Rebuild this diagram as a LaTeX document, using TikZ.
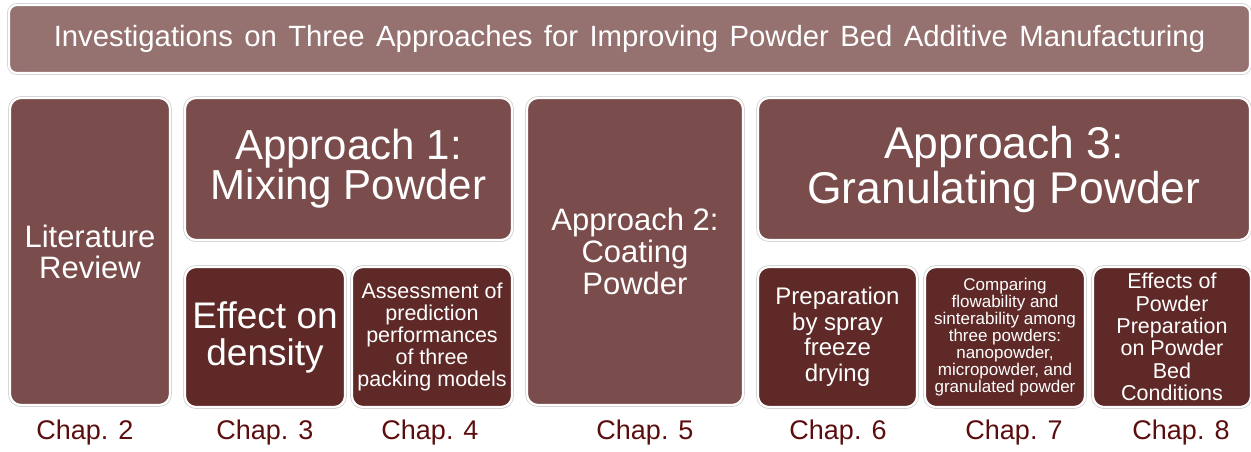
\documentclass[tikz,border=0pt]{standalone}
\usepackage{fontspec}
\setmainfont{Liberation Sans}
\newfontfamily\titlefont[WordSpace=1.4]{Liberation Sans}
\usepackage{tikz}
\definecolor{tt}{RGB}{149, 113, 111}
\definecolor{mm}{RGB}{122, 76, 75}
\definecolor{dd}{RGB}{94, 41, 39}
\definecolor{ch}{RGB}{92, 14, 14}
\usetikzlibrary{positioning}

\tikzset{
	box/.style={rectangle, rounded corners=11pt, draw=white, line width=2.2pt,
		preaction={draw=black!18, line width=3.8pt}, text=white, align=center, inner sep=0pt},
	titlebox/.style={box, fill=tt, rounded corners=8pt},
	midbox/.style={box, fill=mm},
	darkbox/.style={box, fill=dd},
	chap/.style={text=ch, font=\fontsize{27}{30}\selectfont}
}
\newcommand{\fs}[2]{\fontsize{#1}{#2}\selectfont}

\begin{document}
\begin{tikzpicture}
				[x=1pt, y=-1pt]
				\useasboundingbox (0, 0) rectangle (1251, 451);
				\node (title) [titlebox, minimum width=1241pt, minimum height=68pt, font=\titlefont\fs{29.3}{32}] at (629.5, 39)
					{Investigations on Three Approaches for Improving Powder Bed Additive Manufacturing};
				% top row
				\node (lit) [midbox, minimum width=160pt, minimum height=307pt, font=\fs{31}{31}] at (90, 251.5) {Literature\\Review};
				\node (app1) [midbox, minimum width=327pt, minimum height=142pt, font=\fs{42}{39}] at (348.5, 169) {Approach 1:\\Mixing Powder};
				\node (app2) [midbox, minimum width=216pt, minimum height=307pt, font=\fs{31}{32}] at (635, 251.5) {Approach 2:\\Coating\\Powder};
				\node (app3) [midbox, minimum width=492pt, minimum height=142pt, font=\fs{44.5}{45}] at (1004, 169) {Approach 3:\\Granulating Powder};
				% bottom row
				\node (dens) [darkbox, minimum width=160pt, minimum height=140pt, font=\fs{37}{37}] at (265, 337) {Effect on\\density};
				\node (pack) [darkbox, minimum width=160pt, minimum height=140pt, font=\fs{21.5}{22}] at (432, 337)
					{Assessment of\\prediction\\performances\\of three\\packing models};
				\node (spray) [darkbox, minimum width=159pt, minimum height=140pt, font=\fs{24}{25.5}] at (837.5, 337)
					{Preparation\\by spray\\freeze\\drying};
				\node (comp) [darkbox, minimum width=160pt, minimum height=140pt, font=\fs{17}{17}] at (1005, 337)
					{Comparing\\flowability and\\sinterability among\\three powders:\\nanopowder,\\micropowder, and\\granulated powder};
				\node (bed) [darkbox, minimum width=158pt, minimum height=140pt, font=\fs{21.5}{22.4}] at (1172, 337)
					{Effects of\\Powder\\Preparation\\on Powder\\Bed\\Conditions};
				% chapter labels
				\foreach \x/\n in {85/2, 265/3, 430/4, 645/5, 838/6, 1014/7, 1181/8}
					\node (chap\n) [chap] at (\x, 433) {Chap. \n};
		\end{tikzpicture}
\end{document}
